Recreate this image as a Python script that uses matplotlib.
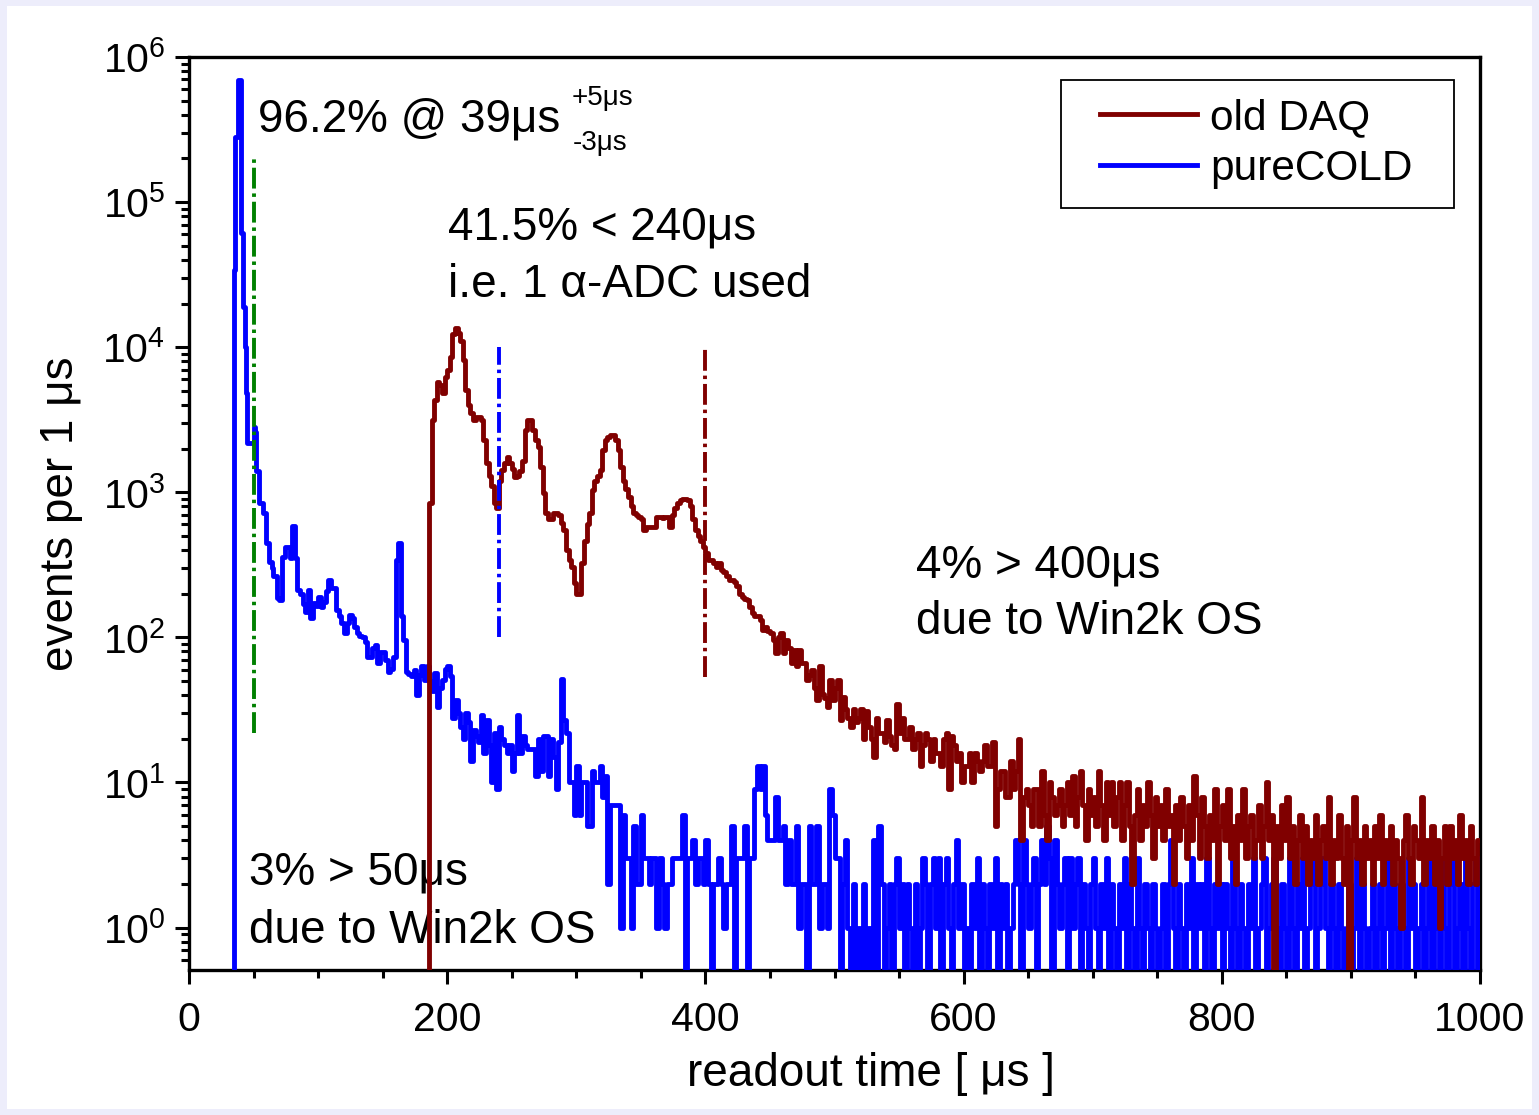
import numpy as np
import matplotlib
import matplotlib.pyplot as plt
from matplotlib.patches import Rectangle
from matplotlib.ticker import LogLocator, MultipleLocator, NullFormatter

# ----------
# Data (events per bin)

# pureCOLD: 1 us bins from 34 us, then 2 us bins
blue_start = 34
blue_peak = [0, 34000, 280000, 280000, 690000, 690000, 61000, 61000, 19000, 10000,
             4800, 2200, 2200, 2200, 2200, 2200, 2800, 2600, 1400, 1400,
             850, 850, 850, 720, 720, 720, 450, 450, 330, 330, 300, 265]
blue_decay = [265, 187, 180, 360, 420, 420, 350, 590, 350, 213, 200, 170, 150, 213, 136,
              172, 165, 190, 162, 175, 210, 250, 218, 220, 155, 140, 125, 108, 125, 142,
              135, 118, 107, 103, 100, 93, 73, 73, 85, 88, 67, 79, 79, 70, 58,
              61, 73, 340, 450, 140, 96, 58, 56, 54, 60, 40, 55, 63, 51, 63,
              50, 43, 57, 33, 45, 51, 61, 63, 54, 28, 37, 30, 24, 20, 30,
              26, 14, 23, 21, 19, 29, 16, 27, 18, 10, 22, 9, 24, 20, 18,
              16, 18, 12, 16, 29, 16, 21, 18, 17, 17, 17, 11, 20, 12, 21,
              21, 11, 20, 15, 9, 19, 52, 27, 22, 10, 10, 6, 13, 6, 10,
              10, 5, 5, 12, 10, 10, 13, 8, 11, 2, 7, 7, 7, 7, 1,
              6, 3, 3, 1, 5, 2, 2, 6, 3, 3, 2, 3, 3, 1, 3,
              2, 1, 2, 2, 3, 3, 3, 3, 6, 0, 3, 3, 4, 2, 3,
              3, 2, 4, 2, 0, 2, 2, 3, 2, 1, 2, 2, 5, 0, 3,
              3, 3, 5, 0, 3, 3, 9, 13, 9, 13, 6, 4, 4, 4, 8,
              4, 4, 5, 2, 4, 2, 2, 5, 1, 2, 2, 0, 5, 2, 2,
              5, 1, 2, 2, 1, 9, 6, 3, 3]
blue_tail = [0, 2, 4, 1, 0, 2, 0, 1, 0, 2, 0, 1, 0, 4, 0, 5, 2, 0, 1, 2,
             0, 2, 3, 1, 2, 0, 2, 1, 0, 2, 0, 1, 3, 2, 0, 2, 3, 1, 3, 0,
             2, 3, 1, 0, 2, 4, 1, 2, 0,
             1, 0, 2, 1, 3, 0, 2, 1, 0, 2, 1, 3, 0, 2, 1, 2, 0, 1, 2, 4,
             2, 0, 4, 2, 1, 2, 3, 0, 2, 4, 2, 5, 3, 0, 4, 2, 1, 2, 3, 0,
             3, 1, 2, 3, 0, 2, 1, 0, 2, 3,
             1, 0, 2, 1, 3, 0, 2, 1, 0, 2, 1, 3, 0, 2, 1, 0, 3, 1, 0, 2,
             1, 0, 2, 1, 0, 1, 2, 0, 2, 4, 1, 0, 2, 1, 0, 2, 1, 3, 0, 2,
             1, 2, 0, 3, 1, 0, 2, 1, 2, 0,
             2, 1, 0, 3, 1, 0, 2, 1, 0, 2, 1, 3, 0, 1, 2, 3, 0, 1, 2, 3,
             1, 0, 2, 1, 0, 3, 1, 0, 2, 1, 3, 0, 1, 2, 3, 0, 1, 2, 3, 1,
             0, 2, 1, 0, 2, 1, 0, 1, 2, 0, 1, 3, 0, 2, 1, 0, 1, 2, 0, 1,
             2, 0, 1, 3, 0, 2, 1, 0, 2, 1, 0, 3, 1, 2, 0, 1, 2, 0, 1, 3,
             0, 2, 1, 0, 3, 1, 0, 2, 3, 0, 1, 2, 0, 3, 1, 0, 2, 3, 0, 3]

# old DAQ: 2 us bins from 184 us
red_start = 184
red_peaks = [0, 850, 3150, 4300, 5800, 5500, 4800, 6200, 7000, 8500, 12400, 13500, 12500,
             11000, 8200, 5100, 4000, 3500, 3150, 3300, 3300, 3150, 2300, 1600, 1300, 1100, 850,
             780, 1200, 1420, 1600, 1750, 1600, 1450, 1280, 1300, 1400, 1650, 2700, 3150, 3150,
             2700, 2300, 2050, 1500, 990, 720, 650, 650, 720, 720, 700, 610, 550, 400, 340, 305,
             237, 200,
             200, 325, 465, 600, 720, 1040, 1200, 1300, 1420, 1950, 2300, 2400, 2500, 2500,
             2300, 1950, 1500, 1200, 1050, 930, 800, 720, 700, 680, 650, 550, 580, 580, 580,
             580, 680, 680, 670, 680, 680, 580, 700, 780, 850, 890, 900, 900, 890, 800, 650,
             550, 500, 465, 420, 380]
red_decay = [340, 340, 325, 305, 325, 290, 280, 265, 250, 250, 240, 225, 200, 190, 185, 180,
             162, 147, 140, 140, 132, 113, 118, 110, 107, 96, 78, 100, 107, 78, 96, 85, 67, 82,
             63, 82,
             67, 67, 51, 55, 60, 45, 37, 63, 41, 38, 33, 51, 37, 45, 51, 27, 39, 32, 28, 24,
             32, 26, 28, 32, 20, 31, 24, 20, 15, 28, 22, 22, 19, 27,
             21, 18, 17, 35, 22, 28, 20, 20, 24, 17, 20, 22, 13, 18, 22, 20, 14, 20, 16, 16,
             13, 20, 22, 9, 21, 18, 14, 16, 10, 13, 13, 16, 10, 16, 14, 12, 14, 18, 13, 13,
             19, 5, 9, 12, 12, 8, 8, 14, 9, 12, 20, 4, 8, 9, 7, 5, 9, 9, 5, 12, 6, 4, 10, 8,
             6, 7]
red_tail = [9, 5, 7, 10, 6, 11, 5, 8, 12, 7, 4, 9, 6, 8, 5, 12, 7, 4, 10, 6,
            10, 5, 8, 10, 4, 7, 10, 5, 2, 6, 9, 4, 7, 5, 10, 6, 3, 8, 5, 7,
            4, 9, 5, 6, 2, 7, 4, 8, 5, 3, 7, 4, 11, 6, 3, 8, 5, 3, 6, 4,
            9, 2, 5, 7, 4, 9, 3, 5, 2, 6, 4, 9, 3, 5, 6, 3, 4, 7, 3, 5,
            10, 4, 6, 0, 5, 3, 7, 4, 8, 3, 5, 2, 4, 6, 3, 5, 2, 4, 3, 6,
            2, 4, 5, 3, 8, 2, 4, 3, 6, 3, 2, 5, 0, 4, 8, 3, 4, 2, 5, 3,
            4, 2, 5, 3, 6, 2, 4, 3, 5, 2, 4, 3, 1, 4, 6, 3, 2, 5, 4, 3,
            8, 2, 4, 3, 5, 2, 4, 1, 3, 5, 2, 5, 3, 4, 2, 6, 3, 4, 2, 5,
            3, 2, 4]

# cut markers: time, lower and upper end of the dash-dot line
cut_times = [50, 240, 400]
cut_lo = [22, 100, 53]
cut_hi = [2.0e5, 1.0e4, 1.0e4]
cut_colors = ['#008000', '#0000ff', '#800000']

# ----------

matplotlib.rc('font', family=['Liberation Sans', 'DejaVu Sans'])
matplotlib.rc('mathtext', fontset='custom', rm='Liberation Sans',
              it='Liberation Sans:italic', bf='Liberation Sans:bold')
matplotlib.rc('lines', scale_dashes=False)

W, H = 1539, 1115
fig = plt.figure(figsize=(W / 100, H / 100), dpi=100, facecolor='#ededfb')
fig.patches.append(Rectangle((7 / W, 6 / H), 1 - 14 / W, 1 - 12 / H,
                             transform=fig.transFigure, facecolor='white',
                             edgecolor='none', zorder=-10))

ax = fig.add_axes([189 / W, 1 - 970 / H, (1480 - 189) / W, (970 - 57) / H])


def edges_values(start, segments):
    xs, ys = [], []
    t = start
    for step, counts in segments:
        n = len(counts)
        xs.append(t + step * np.arange(n))
        ys.append(np.asarray(counts, dtype=float))
        t = t + step * n
    x = np.append(np.concatenate(xs), t)
    y = np.concatenate(ys)
    y = np.append(y, y[-1])
    return x, y


bx, by = edges_values(blue_start, [(1, blue_peak), (2, blue_decay), (2, blue_tail)])
rx, ry = edges_values(red_start, [(2, red_peaks), (2, red_decay), (2, red_tail)])

ax.set_yscale('log', nonpositive='clip')
l_blue, = ax.step(bx, by, where='post', color='#0000ff', lw=3.5, zorder=3)
l_red, = ax.step(rx, ry, where='post', color='#800000', lw=3.5, zorder=4)

for t, lo, hi, c in zip(cut_times, cut_lo, cut_hi, cut_colors):
    ax.vlines(t, lo, hi, colors=c, lw=2.8, linestyles=[(0, (15, 3.5, 2.5, 3.5))], zorder=5)

ax.set_xlim(0, 1000)
ax.set_ylim(0.51, 1e6)

# axes frame and ticks
for s in ax.spines.values():
    s.set_linewidth(2.4)
ax.xaxis.set_major_locator(MultipleLocator(200))
ax.xaxis.set_minor_locator(MultipleLocator(50))
ax.yaxis.set_major_locator(LogLocator(base=10, numticks=20))
ax.yaxis.set_minor_locator(LogLocator(base=10, subs=np.arange(2, 10), numticks=20))
ax.yaxis.set_minor_formatter(NullFormatter())
ax.tick_params(which='both', direction='out', top=False, right=False, width=2.2)
ax.tick_params(which='major', length=10, labelsize=29.5, pad=7)
ax.tick_params(axis='x', which='major', pad=12.5)
ax.tick_params(which='minor', length=6)

ax.set_xlabel('readout time [ \u03bcs ]', fontsize=33)
ax.xaxis.set_label_coords(0.528, -0.09)
ax.set_ylabel('events per 1 \u03bcs', fontsize=33)
ax.yaxis.set_label_coords(-0.082, 0.5)

# annotations
fs = 33
ax.text(0.0534, 0.918, '96.2% @ 39\u03bcs', transform=ax.transAxes, fontsize=fs, va='baseline')
ax.text(0.296, 0.947, '+5\u03bcs', transform=ax.transAxes, fontsize=20, va='baseline')
ax.text(0.297, 0.898, '-3\u03bcs', transform=ax.transAxes, fontsize=20, va='baseline')
ax.text(0.2006, 0.7996, '41.5% < 240\u03bcs', transform=ax.transAxes, fontsize=fs, va='baseline')
ax.text(0.2006, 0.7371, 'i.e. 1 \u03b1-ADC used', transform=ax.transAxes, fontsize=fs, va='baseline')
ax.text(0.5631, 0.4294, '4% > 400\u03bcs', transform=ax.transAxes, fontsize=fs, va='baseline')
ax.text(0.5631, 0.368, 'due to Win2k OS', transform=ax.transAxes, fontsize=fs, va='baseline')
ax.text(0.0465, 0.0931, '3% > 50\u03bcs', transform=ax.transAxes, fontsize=fs, va='baseline')
ax.text(0.0465, 0.0296, 'due to Win2k OS', transform=ax.transAxes, fontsize=fs, va='baseline')

# legend: entries without frame, box drawn separately
ax.add_patch(Rectangle((0.6755, 0.8346), 0.3044, 0.1402, transform=ax.transAxes,
                       facecolor='white', edgecolor='black', lw=1.3, zorder=9))
leg = ax.legend([l_red, l_blue], ['old DAQ', 'pureCOLD'], loc='center left',
                bbox_to_anchor=(0.7057, 0.9053), borderaxespad=0, borderpad=0,
                fontsize=30.5, frameon=False, handlelength=2.3, handletextpad=0.3,
                labelspacing=0.25)
leg.set_zorder(10)

fig.savefig('out.png', dpi=100, facecolor=fig.get_facecolor())
